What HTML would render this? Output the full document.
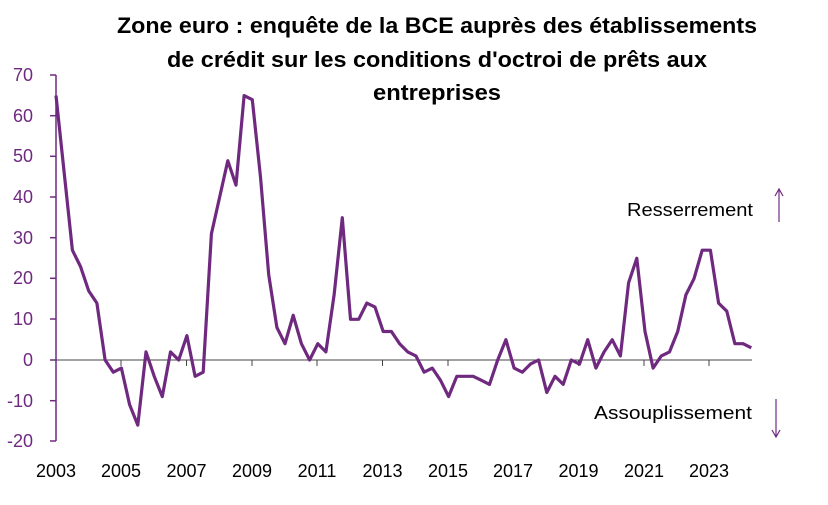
<!DOCTYPE html>
<html><head><meta charset="utf-8"><style>body{margin:0;background:#fff}svg{display:block}</style></head>
<body>
<svg width="828" height="505" xmlns="http://www.w3.org/2000/svg" font-family="Liberation Sans, sans-serif">
<g font-weight="bold" font-size="22" text-anchor="middle" fill="#000">
<text x="437" y="33" textLength="640" lengthAdjust="spacingAndGlyphs">Zone euro : enquête de la BCE auprès des établissements</text>
<text x="437" y="67" textLength="540" lengthAdjust="spacingAndGlyphs">de crédit sur les conditions d'octroi de prêts aux</text>
<text x="437" y="100" textLength="128" lengthAdjust="spacingAndGlyphs">entreprises</text>
</g>
<g stroke="#6f2a80" stroke-width="1.5">
<line x1="56" y1="75" x2="56" y2="441"/>
<line x1="50" y1="75" x2="56" y2="75"/><line x1="50" y1="115.7" x2="56" y2="115.7"/><line x1="50" y1="156.3" x2="56" y2="156.3"/><line x1="50" y1="197" x2="56" y2="197"/><line x1="50" y1="237.7" x2="56" y2="237.7"/><line x1="50" y1="278.3" x2="56" y2="278.3"/><line x1="50" y1="319" x2="56" y2="319"/><line x1="50" y1="360" x2="56" y2="360"/><line x1="50" y1="400.7" x2="56" y2="400.7"/><line x1="50" y1="441" x2="56" y2="441"/>
</g>
<g stroke="#444" stroke-width="1">
<line x1="56" y1="360" x2="752" y2="360"/>
<line x1="121" y1="360" x2="121" y2="366"/><line x1="186.5" y1="360" x2="186.5" y2="366"/><line x1="252" y1="360" x2="252" y2="366"/><line x1="317" y1="360" x2="317" y2="366"/><line x1="382.5" y1="360" x2="382.5" y2="366"/><line x1="448" y1="360" x2="448" y2="366"/><line x1="513" y1="360" x2="513" y2="366"/><line x1="578.5" y1="360" x2="578.5" y2="366"/><line x1="644" y1="360" x2="644" y2="366"/><line x1="709" y1="360" x2="709" y2="366"/>
</g>
<g fill="#6f2a80" font-size="18" text-anchor="end">
<text x="33" y="81">70</text><text x="33" y="122">60</text><text x="33" y="162">50</text><text x="33" y="203">40</text><text x="33" y="244">30</text><text x="33" y="284">20</text><text x="33" y="325">10</text><text x="33" y="366">0</text><text x="33" y="407">-10</text><text x="33" y="447">-20</text>
</g>
<g fill="#000" font-size="18" text-anchor="middle">
<text x="56" y="477">2003</text><text x="121" y="477">2005</text><text x="186.5" y="477">2007</text><text x="252" y="477">2009</text><text x="317" y="477">2011</text><text x="382.5" y="477">2013</text><text x="448" y="477">2015</text><text x="513" y="477">2017</text><text x="578.5" y="477">2019</text><text x="644" y="477">2021</text><text x="709" y="477">2023</text>
</g>
<polyline id="s" fill="none" stroke="#6f2a80" stroke-width="3.2" stroke-linejoin="round" points=""/>
<g font-size="18" fill="#000">
<text x="627" y="216" textLength="126" lengthAdjust="spacingAndGlyphs">Resserrement</text>
<text x="594" y="419" textLength="158" lengthAdjust="spacingAndGlyphs">Assouplissement</text>
</g>
<g stroke="#6f2a80" stroke-width="1.2" fill="none">
<line x1="779" y1="189" x2="779" y2="222"/><polyline points="775,196 779,189 783,196"/>
<line x1="776" y1="399" x2="776" y2="437"/><polyline points="772,430 776,437 780,430"/>
</g>
<script>
var d=[65,46,27,23,17,14,0,-3,-2,-11,-16,2,-4,-9,2,0,6,-4,-3,31,40,49,43,65,64,45,21,8,4,11,4,0,4,2,16,35,10,10,14,13,7,7,4,2,1,-3,-2,-5,-9,-4,-4,-4,-5,-6,0,5,-2,-3,-1,0,-8,-4,-6,0,-1,5,-2,2,5,1,19,25,7,-2,1,2,7,16,20,27,27,14,12,4,4,3];
document.getElementById('s').setAttribute('points',d.map(function(v,i){return (56+i*8.18).toFixed(1)+','+(360-v*4.067).toFixed(1)}).join(' '));
</script>
</svg>
</body></html>
